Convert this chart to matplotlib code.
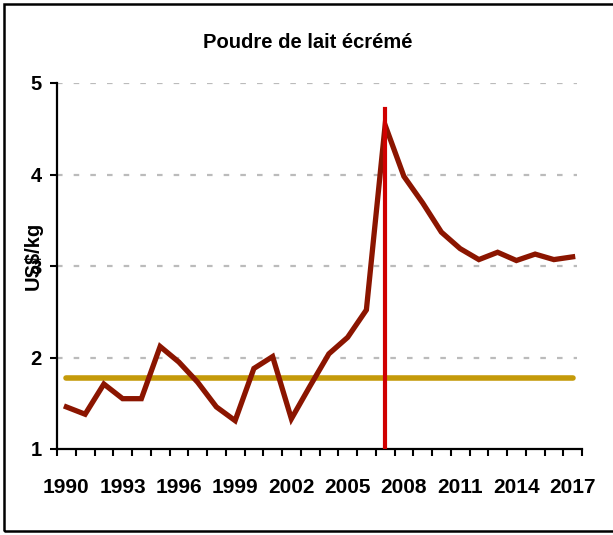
import matplotlib
matplotlib.use("Agg")
import matplotlib.pyplot as plt
from matplotlib.patches import Rectangle

years = list(range(1990, 2018))
prices = [1.46, 1.38, 1.71, 1.55, 1.55, 2.12, 1.95, 1.73, 1.46, 1.31,
          1.88, 2.01, 1.33, 1.69, 2.04, 2.22, 2.52, 4.54, 3.98, 3.69,
          3.37, 3.19, 3.07, 3.15, 3.06, 3.13, 3.07, 3.10]
average = [1.78] * len(years)
marker_year = 2007
marker_top = 4.72
label_years = [1990, 1993, 1996, 1999, 2002, 2005, 2008, 2011, 2014, 2017]
yticks = [1, 2, 3, 4, 5]

plt.rcParams['font.family'] = ['Liberation Sans', 'DejaVu Sans']

W, H = 613, 535
fig = plt.figure(figsize=(W / 100, H / 100), dpi=100)
ax = fig.add_axes([57 / W, 1 - 449 / H, (582 - 57) / W, (449 - 83) / H])

x = list(range(len(years)))
ax.plot(x, average, color='#C49A0A', lw=4.0, solid_capstyle='round', zorder=3)
ax.plot(x, prices, color='#8B1500', lw=3.8, solid_joinstyle='miter', zorder=4)
mi = years.index(marker_year)
ax.plot([mi, mi], [1, marker_top], color='#D00000', lw=3.0, zorder=5)

ax.set_xlim(-0.5, len(years) - 0.5)
ax.set_ylim(1, 5)

for v in yticks[1:]:
    ax.axhline(v, xmin=0, xmax=0.99, color='#BBBBBB', lw=1.6, dashes=(2.5, 5), zorder=1)

ax.set_yticks(yticks)
ax.set_yticklabels([str(v) for v in yticks], fontsize=14.5, fontweight='bold')
ax.tick_params(axis='y', direction='out', length=5, width=1.5, pad=6)

ax.set_xticks([i - 0.5 for i in range(len(years) + 1)])
ax.set_xticklabels([])
ax.tick_params(axis='x', which='major', direction='out', length=5, width=1.5)
ax.set_xticks([years.index(y) for y in label_years], minor=True)
ax.set_xticklabels([str(y) for y in label_years], minor=True, fontsize=15, fontweight='bold')
ax.tick_params(axis='x', which='minor', length=0, pad=21)

for s in ['top', 'right']:
    ax.spines[s].set_visible(False)
for s in ['left', 'bottom']:
    ax.spines[s].set_linewidth(1.6)

ax.set_ylabel('US$/kg', fontsize=14.5, fontweight='bold', labelpad=0)
ax.yaxis.set_label_coords(-14 / (582 - 57), (449 - 256) / (449 - 83))

fig.text(308 / W, 1 - 43 / H, 'Poudre de lait écrémé', ha='center', va='center',
         fontsize=14.5, fontweight='bold')

fig.patches.append(Rectangle((4 / W, 4 / H), 1, 1 - 8 / H, transform=fig.transFigure,
                             fill=False, edgecolor='black', lw=1.8))

fig.savefig('out.png', dpi=100)
